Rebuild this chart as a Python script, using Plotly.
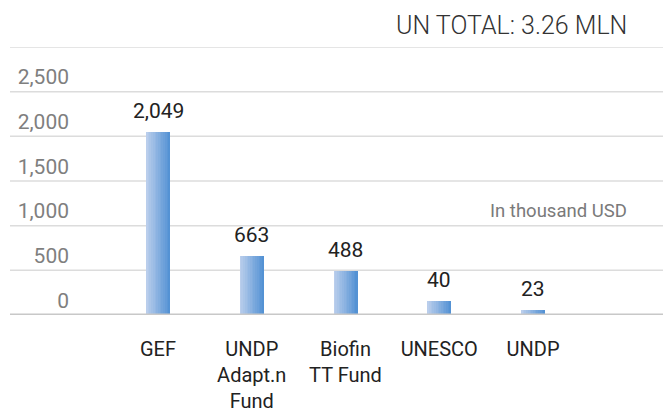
import plotly.graph_objects as go

# ---- data ----
categories = ["GEF", "UNDP<br>Adapt.n<br>Fund", "Biofin<br>TT Fund", "UNESCO", "UNDP"]
value_labels = ["2,049", "663", "488", "40", "23"]          # printed values (thousand USD)
bar_heights = [2049, 663, 488, 160, 60]                      # bar heights as drawn in the picture
y_ticks = [0, 500, 1000, 1500, 2000, 2500]
grid_lines = [500, 1000, 1500, 2000, 2500, 3000]
title_text = "UN TOTAL: 3.26 MLN"
unit_text = "In thousand USD"

# ---- style ----
W, H = 663, 412
ML, MR, MT, MB = 70, 0, 47, 97
plot_w = W - ML - MR
unit_px = 93.75
first_center_px = 158
x0 = -(first_center_px - ML) / unit_px
x1 = x0 + plot_w / unit_px
bar_w = 24 / unit_px

c_left = (186, 206, 236)
c_right = (84, 146, 212)
N = 14
xs = list(range(len(categories)))

fig = go.Figure()
dw = bar_w / N
for k in range(N):
    t = k / (N - 1)
    col = tuple(round(c_left[i] + (c_right[i] - c_left[i]) * t) for i in range(3))
    fig.add_trace(go.Bar(
        x=xs, y=bar_heights,
        width=bar_w - k * dw,
        offset=-bar_w / 2 + k * dw,
        marker=dict(color="rgb(%d,%d,%d)" % col, line=dict(width=0)),
        showlegend=False, hoverinfo="skip",
    ))

# gridlines (extend under the tick labels)
gx0 = (10 - ML) / plot_w
for g in grid_lines:
    fig.add_shape(type="line", xref="paper", yref="y", x0=gx0, x1=1, y0=g, y1=g,
                  line=dict(color="#dcdcdc", width=1.5), layer="below")
fig.add_shape(type="line", xref="paper", yref="y", x0=gx0, x1=1, y0=0, y1=0,
              line=dict(color="#c8c8c8", width=3), layer="above")

# value labels
for xi, h, lab in zip(xs, bar_heights, value_labels):
    fig.add_annotation(x=xi, y=h, text=lab, showarrow=False, yanchor="bottom",
                       yshift=7, font=dict(family="Roboto", size=21, color="#222222"))

fig.add_annotation(xref="paper", yref="y", x=(629 - ML) / plot_w, y=3000, text=title_text,
                   showarrow=False, xanchor="right", yanchor="bottom", yshift=5,
                   font=dict(family="Roboto", size=25, weight=300, color="#333333"))
fig.add_annotation(xref="paper", yref="y", x=(629 - ML) / plot_w, y=1000, text=unit_text,
                   showarrow=False, xanchor="right", yanchor="bottom", yshift=2,
                   font=dict(family="Roboto", size=18.5, color="#7a7a7a"))

fig.update_layout(
    width=W, height=H,
    margin=dict(l=ML, r=MR, t=MT, b=MB, pad=0, autoexpand=False),
    paper_bgcolor="white", plot_bgcolor="white",
    barmode="overlay", bargap=0,
    xaxis=dict(range=[x0, x1], tickvals=xs, ticktext=categories, showgrid=False,
               zeroline=False, showline=False, ticks="", ticklabelstandoff=20, automargin=False,
               tickfont=dict(family="Roboto", size=20, color="#222222")),
    yaxis=dict(range=[0, 3000], tickvals=y_ticks, tickformat=",", showgrid=False,
               zeroline=False, showline=False, ticks="", ticklabelposition="outside top",
               automargin=False,
               tickfont=dict(family="Roboto", size=21, color="#7f7f7f")),
)

fig.write_html("out.html", config={"displayModeBar": False},
               post_script="document.body.style.margin='0';")
